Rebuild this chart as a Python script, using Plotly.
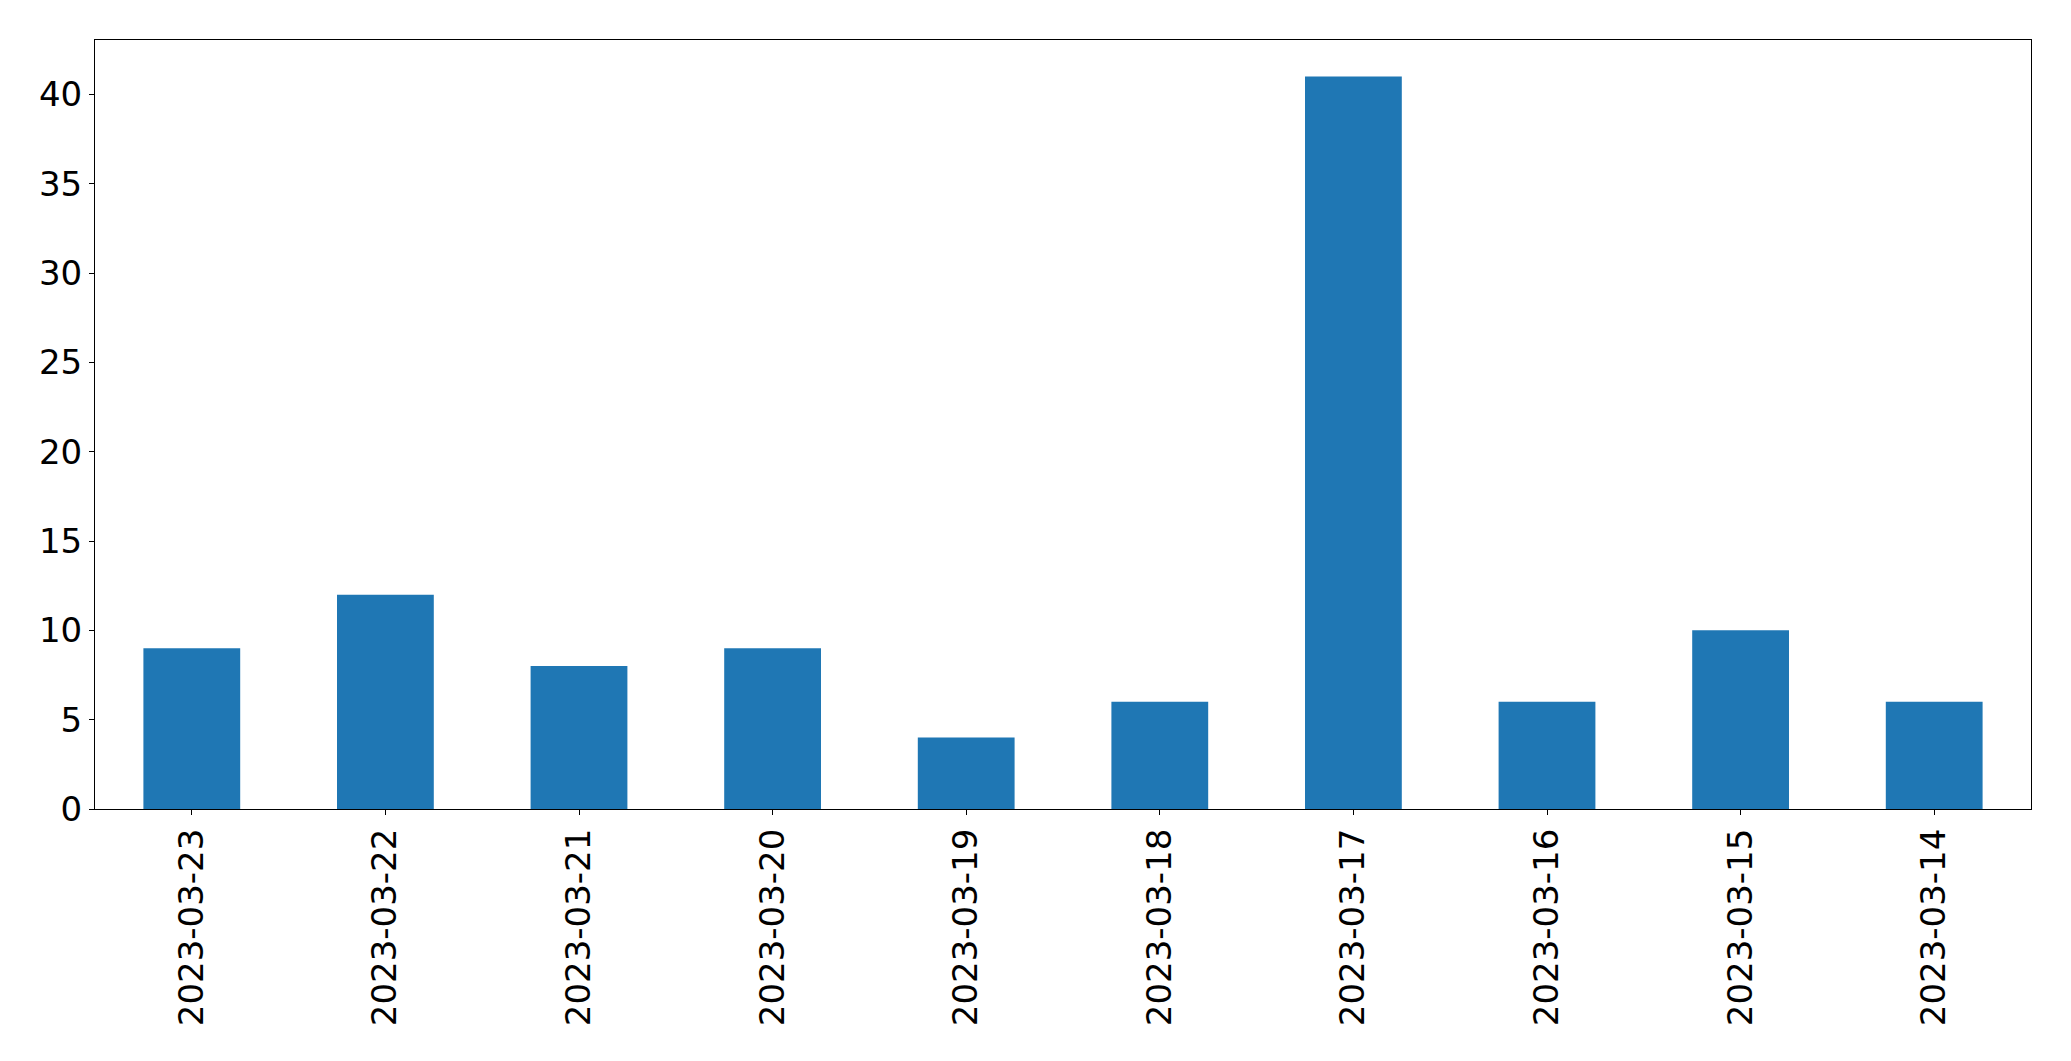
import plotly.graph_objects as go

dates = ["2023-03-23", "2023-03-22", "2023-03-21", "2023-03-20", "2023-03-19",
         "2023-03-18", "2023-03-17", "2023-03-16", "2023-03-15", "2023-03-14"]
counts = [9, 12, 8, 9, 4, 6, 41, 6, 10, 6]
y_ticks = [0, 5, 10, 15, 20, 25, 30, 35, 40]

fig = go.Figure(go.Bar(x=list(range(len(dates))), y=counts, width=0.5,
                       marker=dict(color="#1f77b4", line=dict(width=0))))

font = dict(family="DejaVu Sans", size=34, color="black")
fig.update_layout(
    width=2071, height=1061,
    margin=dict(l=94.5, r=40, t=39.5, b=252),
    plot_bgcolor="white", paper_bgcolor="white",
    showlegend=False,
    font=font,
)
fig.update_xaxes(
    range=[-0.5, len(dates) - 0.5],
    tickmode="array", tickvals=list(range(len(dates))), ticktext=dates,
    tickangle=-90, ticks="outside", ticklen=5, tickwidth=1.1, tickcolor="black",
    showline=True, linecolor="black", linewidth=1.1, mirror=True,
    showgrid=False, zeroline=False, tickfont=font,
)
fig.update_yaxes(
    range=[0, max(counts) * 1.05],
    tickmode="array", tickvals=y_ticks,
    ticks="outside", ticklen=5, tickwidth=1.1, tickcolor="black",
    showline=True, linecolor="black", linewidth=1.1, mirror=True,
    showgrid=False, zeroline=False, tickfont=font,
)
fig.write_html("out.html",
               config={"displayModeBar": False},
               post_script="document.body.style.margin='0';document.body.style.padding='0';")
